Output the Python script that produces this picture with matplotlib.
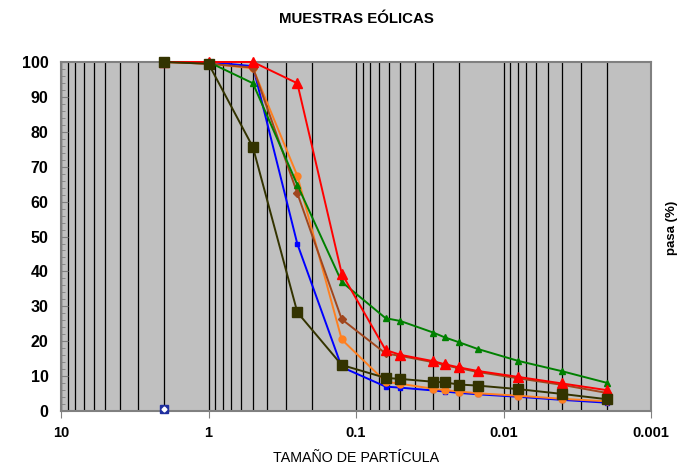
import matplotlib.pyplot as plt
from matplotlib.ticker import LogLocator, FixedLocator, MultipleLocator, NullFormatter

plt.rcParams['font.family'] = ['Liberation Sans', 'DejaVu Sans']

# particle size (mm)
tamano = [2, 1, 0.5, 0.25, 0.125, 0.063, 0.05, 0.03, 0.025, 0.02, 0.015, 0.008, 0.004, 0.002]

# percent passing for each sample
azul = [100, 100, 98.8, 47.9, 12.6, 7.0, 6.7, 5.9, 5.6, 5.2, 4.8, 4.1, 3.2, 2.4]
naranja = [100, 99.5, 98.2, 67.4, 20.5, 8.4, 7.8, 6.4, 6.0, 5.6, 5.1, 4.4, 3.5, 2.8]
marron = [100, 99.5, 98.4, 62.4, 26.3, 16.5, 15.8, 14.0, 13.1, 12.3, 11.2, 9.4, 7.5, 5.2]
verde = [None, 100, 93.9, 64.8, 37.0, 26.6, 25.8, 22.5, 21.1, 19.7, 17.8, 14.4, 11.4, 8.1]
rojo = [100, 100, 100, 93.9, 39.4, 17.5, 16.1, 14.3, 13.4, 12.5, 11.5, 9.8, 7.9, 6.0]
oliva = [100, 99.5, 75.6, 28.3, 13.2, 9.5, 9.2, 8.4, 8.2, 7.6, 7.3, 6.3, 4.9, 3.4]

# lone point at 2 mm
punto_x = [2]
punto_y = [0.6]

fig = plt.figure(figsize=(6.84, 4.65), dpi=100)
ax = fig.add_axes([0.0892, 0.116, 0.8626, 0.7507])
ax.set_facecolor('#C0C0C0')

series = [
    (azul, '#0000FF', 's', 3.2),
    (naranja, '#FF8020', 'o', 5),
    (marron, '#A0461E', 'D', 4.5),
    (verde, '#008000', '^', 5),
    (rojo, '#FF0000', '^', 6.5),
    (oliva, '#333300', 's', 6.5),
]
for vals, col, mk, ms in series:
    xs = [x for x, v in zip(tamano, vals) if v is not None]
    ys = [v for v in vals if v is not None]
    ax.plot(xs, ys, color=col, lw=1.4, marker=mk, ms=ms, mfc=col, mec=col,
            clip_on=False, zorder=3)

ax.plot(punto_x, punto_y, marker='s', ms=6, color='#1F2F9F', ls='none',
        clip_on=False, zorder=4)
ax.plot(punto_x, punto_y, marker='D', ms=2.5, color='white', ls='none',
        clip_on=False, zorder=5)

ax.set_xscale('log')
ax.set_xlim(10, 0.001)
ax.set_ylim(0, 100)

ax.xaxis.set_major_locator(FixedLocator([10, 1, 0.1, 0.01, 0.001]))
ax.xaxis.set_minor_locator(LogLocator(base=10, subs=range(2, 10), numticks=20))
ax.xaxis.set_minor_formatter(NullFormatter())
ax.set_xticklabels(['10', '1', '0.1', '0.01', '0.001'])
ax.yaxis.set_major_locator(MultipleLocator(10))
ax.yaxis.set_minor_locator(MultipleLocator(2))

ax.grid(True, which='both', axis='x', color='black', lw=0.9)
ax.set_axisbelow(True)

for s in ax.spines.values():
    s.set_color('#808080')
    s.set_linewidth(1.5)

ax.tick_params(axis='x', which='major', direction='out', length=5, color='#808080',
               labelsize=10.5, pad=6)
ax.tick_params(axis='x', which='minor', length=0)
ax.tick_params(axis='y', which='major', direction='in', length=5, color='#808080',
               labelsize=11.5, pad=9)
ax.tick_params(axis='y', which='minor', direction='in', length=3, color='#808080')
for lab in ax.get_xticklabels() + ax.get_yticklabels():
    lab.set_fontweight('bold')

ax.set_title('MUESTRAS EÓLICAS', fontsize=10.8, fontweight='bold', pad=28)
ax.set_xlabel('TAMAÑO DE PARTÍCULA', fontsize=10.3, labelpad=8)

fig.text(0.982, 0.51, 'pasa (%)', rotation=90, fontsize=9.5, fontweight='bold',
         ha='center', va='center')

fig.savefig('out.png', dpi=100)
